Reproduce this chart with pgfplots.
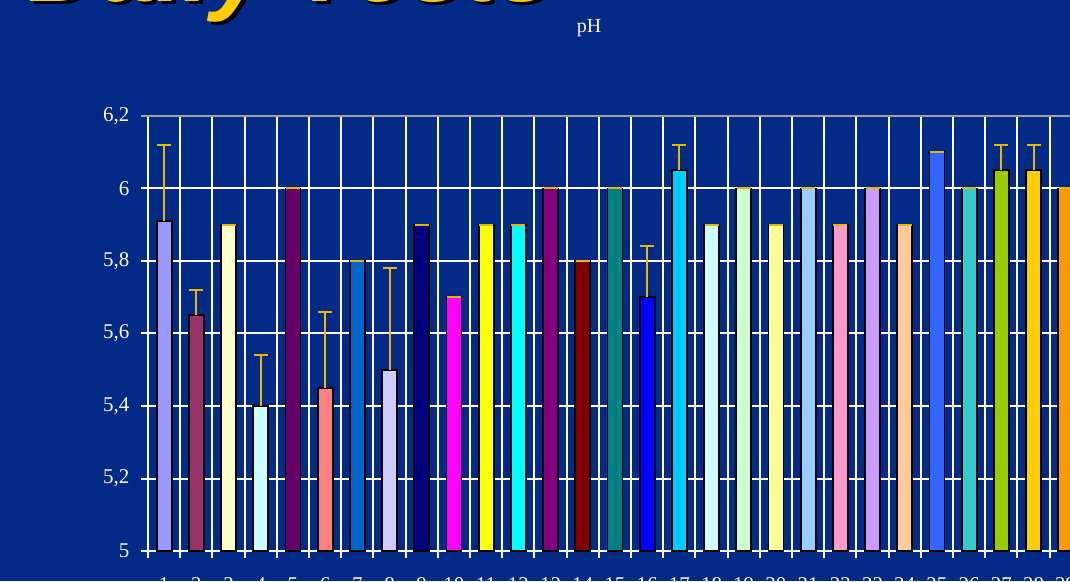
\documentclass[border=0pt]{standalone}
\usepackage{fontspec}
\setmainfont{Liberation Serif}
\newfontfamily\titlefont{Liberation Sans}
\usepackage{pgfplots}
\pgfplotsset{compat=1.18}

\definecolor{bg}{RGB}{2,42,134}
\definecolor{cream}{RGB}{250,250,225}
\definecolor{gold}{RGB}{232,184,0}
\definecolor{titlecol}{HTML}{FFCC00}
\definecolor{c1}{HTML}{9999FF}
\definecolor{c2}{HTML}{993366}
\definecolor{c3}{HTML}{FFFFCC}
\definecolor{c4}{HTML}{CCFFFF}
\definecolor{c5}{HTML}{660066}
\definecolor{c6}{HTML}{FF8080}
\definecolor{c7}{HTML}{0066CC}
\definecolor{c8}{HTML}{CCCCFF}
\definecolor{c9}{HTML}{000080}
\definecolor{c10}{HTML}{FF00FF}
\definecolor{c11}{HTML}{FFFF00}
\definecolor{c12}{HTML}{00FFFF}
\definecolor{c13}{HTML}{800080}
\definecolor{c14}{HTML}{800000}
\definecolor{c15}{HTML}{008080}
\definecolor{c16}{HTML}{0000FF}
\definecolor{c17}{HTML}{00CCFF}
\definecolor{c18}{HTML}{CCFFFF}
\definecolor{c19}{HTML}{CCFFCC}
\definecolor{c20}{HTML}{FFFF99}
\definecolor{c21}{HTML}{99CCFF}
\definecolor{c22}{HTML}{FF99CC}
\definecolor{c23}{HTML}{CC99FF}
\definecolor{c24}{HTML}{FFCC99}
\definecolor{c25}{HTML}{3366FF}
\definecolor{c26}{HTML}{33CCCC}
\definecolor{c27}{HTML}{99CC00}
\definecolor{c28}{HTML}{FFCC00}
\definecolor{c29}{HTML}{FF9900}

\pgfplotsset{
  bb/.style={ybar, bar width=15pt, bar shift=0pt, draw=black, line width=1.8pt, fill=#1,
    error bars/y dir=plus, error bars/y explicit,
    error bars/error bar style={color=gold, line width=2pt},
    error bars/error mark options={rotate=90, color=gold, mark size=7pt, line width=2pt}},
}

\begin{document}
\begin{tikzpicture}[x=1pt, y=1pt]
\useasboundingbox (0,0) rectangle (1070,581);
\clip (0,0) rectangle (1070,581);
\fill[bg] (0,0) rectangle (1070,581);

% title, mostly cut off at the top
\node[anchor=base west, inner sep=0, text=black, font=\titlefont\fontsize{100}{100}\selectfont\bfseries\itshape] at (32,576) {Daily Tests};
\node[anchor=base west, inner sep=0, text=titlecol, font=\titlefont\fontsize{100}{100}\selectfont\bfseries\itshape] at (28,579) {Daily Tests};

\node[text=cream, font=\fontsize{20}{24}\selectfont] at (589,553) {pH};

\begin{axis}[
  at={(148pt,30pt)}, anchor=south west,
  scale only axis, width=933.8pt, height=435pt,
  xmin=0.5, xmax=29.5, ymin=5, ymax=6.2,
  axis x line*=bottom, axis y line*=left,
  axis line style={white, line width=2pt},
  xtick={1,...,29},
  minor xtick={0.5,1.5,...,29.5},
  ytick={5,5.2,5.4,5.6,5.8,6,6.2},
  xminorgrids=true, ymajorgrids=true,
  major grid style={white, line width=2pt},
  minor grid style={white, line width=2pt},
  tick align=outside,
  major tick length=7pt, minor tick length=7pt,
  tick style={white, line width=2pt},
  major x tick style={draw=none},
  /pgf/number format/use comma,
  /pgf/number format/assume math mode=true,
  ticklabel style={text=cream, font=\fontsize{21}{24}\selectfont},
  xticklabel style={yshift=-16pt},
  yticklabel style={xshift=-8pt},
  clip=false,
]
\addplot[bb=c1]  coordinates {(1,5.91) +- (0,0.21)};
\addplot[bb=c2]  coordinates {(2,5.65) +- (0,0.07)};
\addplot[bb=c3]  coordinates {(3,5.90) +- (0,0)};
\addplot[bb=c4]  coordinates {(4,5.40) +- (0,0.14)};
\addplot[bb=c5]  coordinates {(5,6.00) +- (0,0)};
\addplot[bb=c6]  coordinates {(6,5.45) +- (0,0.21)};
\addplot[bb=c7]  coordinates {(7,5.80) +- (0,0)};
\addplot[bb=c8]  coordinates {(8,5.50) +- (0,0.28)};
\addplot[bb=c9]  coordinates {(9,5.90) +- (0,0)};
\addplot[bb=c10] coordinates {(10,5.70) +- (0,0)};
\addplot[bb=c11] coordinates {(11,5.90) +- (0,0)};
\addplot[bb=c12] coordinates {(12,5.90) +- (0,0)};
\addplot[bb=c13] coordinates {(13,6.00) +- (0,0)};
\addplot[bb=c14] coordinates {(14,5.80) +- (0,0)};
\addplot[bb=c15] coordinates {(15,6.00) +- (0,0)};
\addplot[bb=c16] coordinates {(16,5.70) +- (0,0.14)};
\addplot[bb=c17] coordinates {(17,6.05) +- (0,0.07)};
\addplot[bb=c18] coordinates {(18,5.90) +- (0,0)};
\addplot[bb=c19] coordinates {(19,6.00) +- (0,0)};
\addplot[bb=c20] coordinates {(20,5.90) +- (0,0)};
\addplot[bb=c21] coordinates {(21,6.00) +- (0,0)};
\addplot[bb=c22] coordinates {(22,5.90) +- (0,0)};
\addplot[bb=c23] coordinates {(23,6.00) +- (0,0)};
\addplot[bb=c24] coordinates {(24,5.90) +- (0,0)};
\addplot[bb=c25] coordinates {(25,6.10) +- (0,0)};
\addplot[bb=c26] coordinates {(26,6.00) +- (0,0)};
\addplot[bb=c27] coordinates {(27,6.05) +- (0,0.07)};
\addplot[bb=c28] coordinates {(28,6.05) +- (0,0.07)};
\addplot[bb=c29] coordinates {(29,6.00) +- (0,0)};
\draw[gray!75, line width=2pt] ([xshift=-7pt]rel axis cs:0,1) -- (rel axis cs:1,1);
\end{axis}
\end{tikzpicture}
\end{document}
